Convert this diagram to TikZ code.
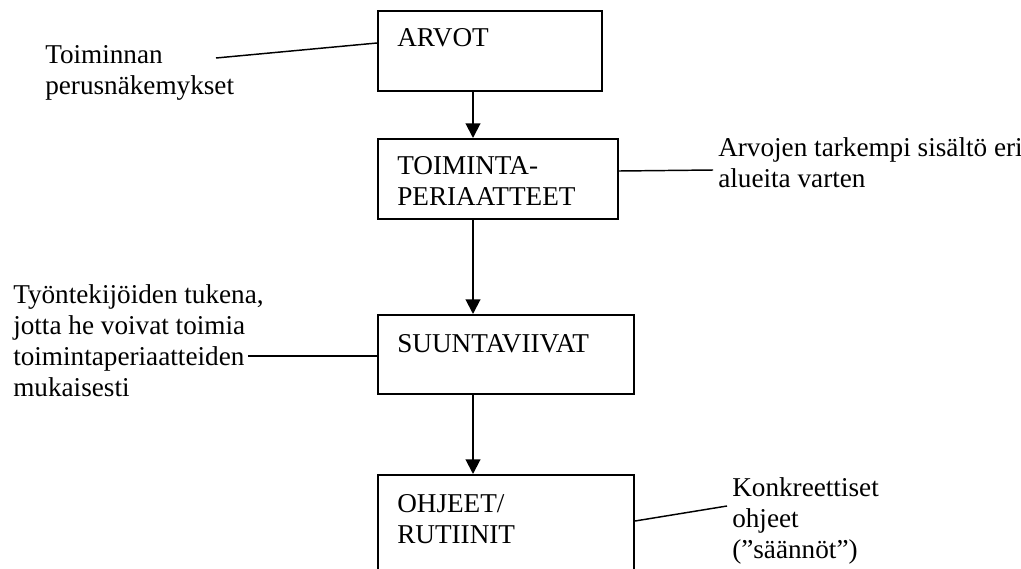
\documentclass[tikz,border=0pt]{standalone}
\usepackage{fontspec}
\setmainfont{Liberation Serif}
\usetikzlibrary{arrows.meta}

\begin{document}
\begin{tikzpicture}[x=0.75pt, y=-0.75pt,
    every node/.style={font=\fontsize{20.4}{23.25}\selectfont, align=left, inner sep=0pt},
    box/.style={draw, line width=1.5pt, anchor=north west, minimum height=60pt},
    boxtext/.style={anchor=north west, xshift=15pt, yshift=-13.5pt},
    note/.style={anchor=north west},
    arr/.style={-{Triangle[width=11pt,length=11pt]}, line width=1.5pt},
    link/.style={line width=1.1pt}]
\clip (0,0) rectangle (1021,568);
% boxes
\node[box, minimum width=168pt] (arvot) at (377,10) {};
\node[box, minimum width=180pt] (periaatteet) at (377,138) {};
\node[box, minimum width=192pt, minimum height=59.25pt] (suuntaviivat) at (377,314) {};
\node[box, minimum width=192pt, minimum height=90pt] (ohjeet) at (377,474) {};
\node[boxtext] at (arvot.north west) {ARVOT};
\node[boxtext] at (periaatteet.north west) {TOIMINTA-\\PERIAATTEET};
\node[boxtext, yshift=-1.5pt] at (suuntaviivat.north west) {SUUNTAVIIVAT};
\node[boxtext, yshift=-1.5pt] at (ohjeet.north west) {OHJEET/\\RUTIINIT};
% side notes
\node[note] (perus) at (45,45) {Toiminnan\\perusnäkemykset};
\node[note] (tarkempi) at (718,137) {Arvojen tarkempi sisältö eri\\alueita varten};
\node[note] (tukena) at (13,284) {Työntekijöiden tukena,\\jotta he voivat toimia\\toimintaperiaatteiden\\mukaisesti};
\node[note] (konkr) at (732,477) {Konkreettiset\\ohjeet\\(”säännöt”)};
\coordinate (axis) at (473,0);
\coordinate (perus-end) at (216,58);
\coordinate (tarkempi-end) at (713,170);
\coordinate (tukena-end) at (248,356);
\coordinate (konkr-end) at (727,506);
% arrows
\draw[arr] (arvot.south -| axis) -- (periaatteet.north -| axis);
\draw[arr] (periaatteet.south -| axis) -- (suuntaviivat.north -| axis);
\draw[arr] (suuntaviivat.south -| axis) -- (ohjeet.north -| axis);
% note lines
\draw[link] (perus-end) -- ([yshift=6pt]arvot.west);
\draw[link] ([yshift=6pt]periaatteet.east) -- (tarkempi-end);
\draw[link] (tukena-end) -- (suuntaviivat.west |- tukena-end);
\draw[link] (ohjeet.east |- 0,521) -- (konkr-end);
\end{tikzpicture}
\end{document}
